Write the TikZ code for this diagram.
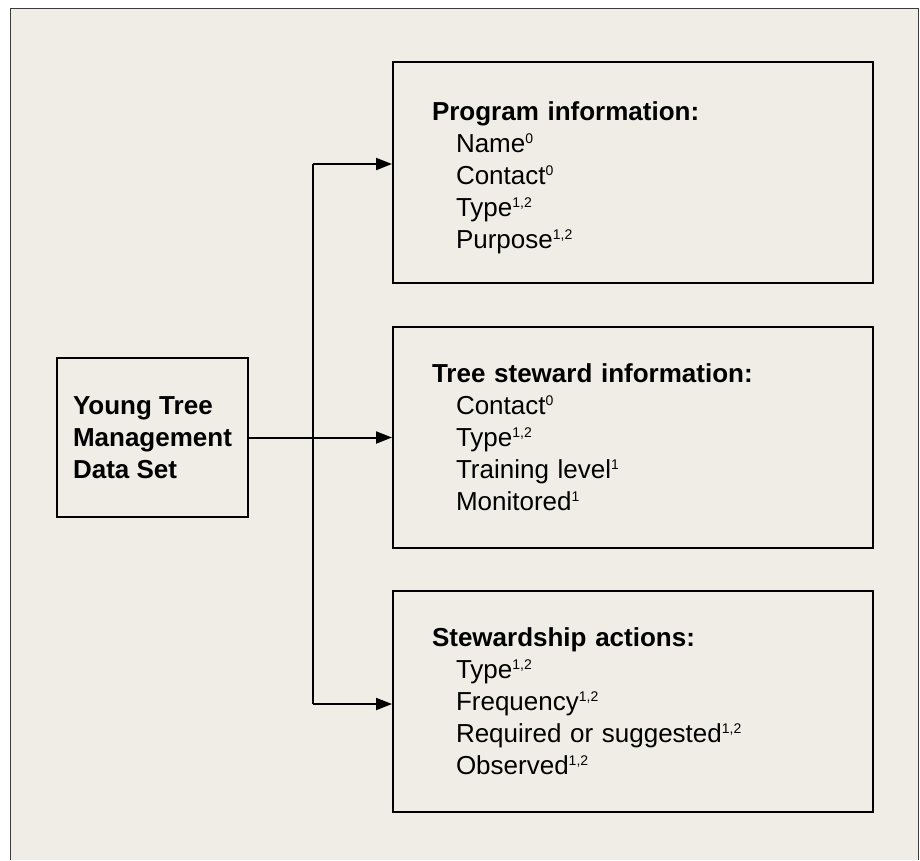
\documentclass[tikz,border=0pt]{standalone}
\usepackage{fontspec}
\setmainfont{Liberation Sans}
\usepackage{tikz}
\usetikzlibrary{arrows.meta,positioning,calc}
\definecolor{paperBeige}{RGB}{240,237,230}
\definecolor{frameGray} {RGB}{ 60, 60, 60}
\newcommand{\fnote}[1]{\raisebox{8.5pt}{\fontsize{14pt}{14pt}\selectfont #1}}
\newcommand{\itm}[1]{\hspace*{24pt}#1}

\begin{document}
\begin{tikzpicture}[x=1pt,y=-1pt,
    box/.style={draw=black, line width=2pt, rectangle, inner sep=0pt},
    infobox/.style={box, minimum width=480pt, minimum height=221pt,
      text width=402pt, align=left, inner xsep=39pt},
    link/.style={line width=2pt, black},
    arrowlink/.style={link, -{Triangle[length=16pt,width=12pt]}},
    font=\fontsize{26pt}{32pt}\selectfont]
  \useasboundingbox (0,0) rectangle (920,860);
  % paper and frame
  \fill[white] (0,0) rectangle (920,860);
  \fill[paperBeige] (10,8) rectangle (918,860);
  \draw[frameGray, line width=1pt] (10,860) -- (10,8) -- (918,8) -- (918,860);
  % data set
  \node[box, minimum width=191pt, minimum height=159pt, align=left]
    (young) at (152.5,437.5) {\textbf{Young Tree}\\ \textbf{Management}\\ \textbf{Data Set}};
  % the three groups
  \node[infobox] (prog) at (633,172.5)
    {\rule{0pt}{29pt}\textbf{Program information:}\\
     \itm{Name\fnote{0}}\\
     \itm{Contact\fnote{0}}\\
     \itm{Type\fnote{1,2}}\\
     \itm{Purpose\fnote{1,2}}};
  \node[infobox] (steward) at (633,437)
    {\textbf{Tree steward information:}\\
     \itm{Contact\fnote{0}}\\
     \itm{Type\fnote{1,2}}\\
     \itm{Training level\fnote{1}}\\
     \itm{Monitored\fnote{1}}};
  \node[infobox] (action) at (633,701)
    {\textbf{Stewardship actions:}\\
     \itm{Type\fnote{1,2}}\\
     \itm{Frequency\fnote{1,2}}\\
     \itm{Required or suggested\fnote{1,2}}\\
     \itm{Observed\fnote{1,2}}};
  % connectors
  \coordinate (jtop) at (313,164);
  \coordinate (jbot) at (313,704);
  \draw[link] (jtop) -- (jbot);
  \draw[arrowlink] (jtop) -- (jtop -| prog.west);
  \draw[arrowlink] (young.east) -- (young.east -| steward.west);
  \draw[arrowlink] (jbot) -- (jbot -| action.west);
\end{tikzpicture}
\end{document}
